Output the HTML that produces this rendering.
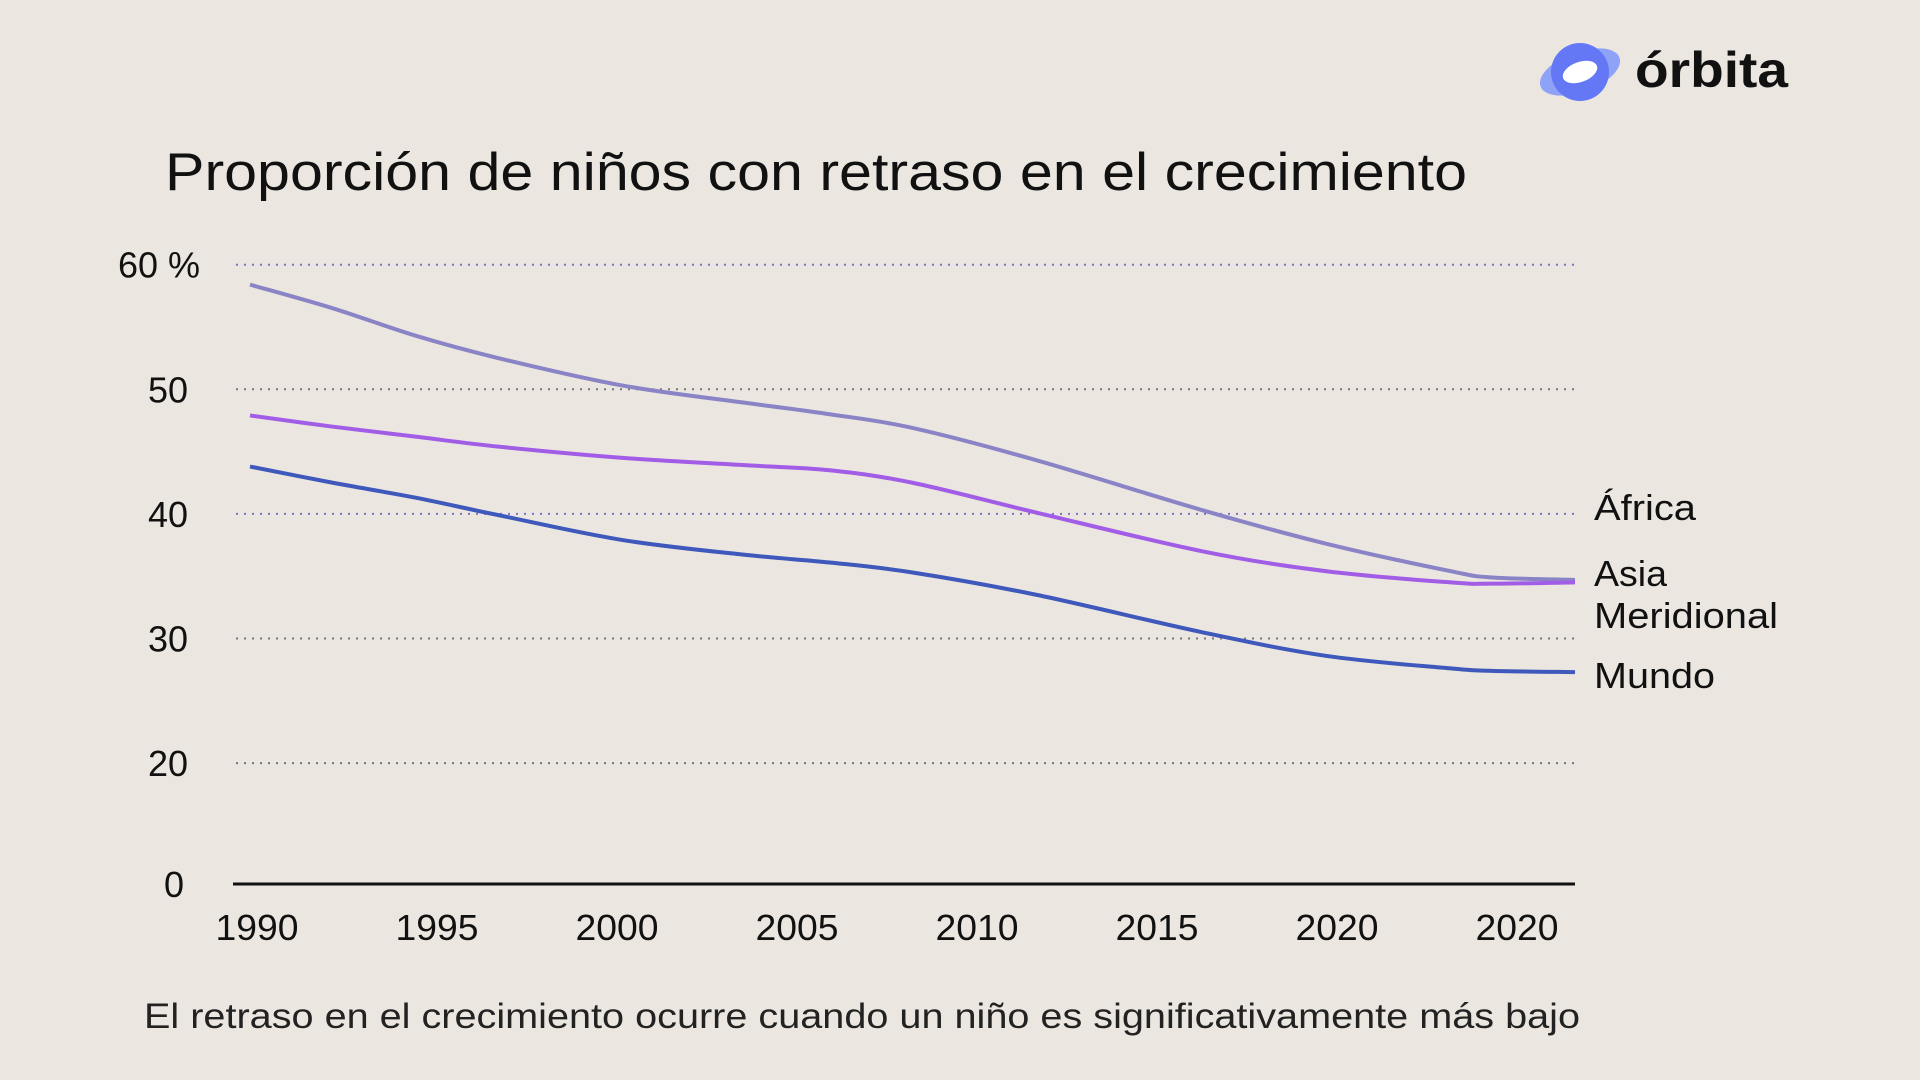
<!DOCTYPE html>
<html><head><meta charset="utf-8"><style>
body{margin:0;background:#ebe7e0;}
svg{display:block;font-family:"Liberation Sans",sans-serif;}
</style></head><body>
<svg width="1920" height="1080" viewBox="0 0 1920 1080">
<rect width="1920" height="1080" fill="#ebe7e0"/>
<g>
<ellipse cx="1580" cy="72" rx="42" ry="20" transform="rotate(-20 1580 72)" fill="#8ea2f8"/>
<circle cx="1580" cy="72" r="29" fill="#6478f5"/>
<ellipse cx="1580" cy="72" rx="18" ry="10" transform="rotate(-20 1580 72)" fill="#fff"/>
<text x="1635" y="87" font-size="50" font-weight="bold" fill="#111" textLength="153" lengthAdjust="spacingAndGlyphs">órbita</text>
</g>
<text x="165" y="190" font-size="53" fill="#111" textLength="1302" lengthAdjust="spacingAndGlyphs">Proporción de niños con retraso en el crecimiento</text>
<g id="grid"></g><g id="lines"></g><g id="labels"></g>
<text x="144" y="1028" font-size="35" fill="#222" textLength="1436" lengthAdjust="spacingAndGlyphs">El retraso en el crecimiento ocurre cuando un niño es significativamente más bajo</text>
</svg>
<script>
const years=[1990,1992,1994,1996,1999,2002,2004,2006,2009,2013,2016,2019,2020,2022];
const africa=[58.4,56.5,54.3,52.5,50.3,48.9,48.0,46.9,44.3,40.3,37.6,35.4,34.9,34.7];
const asia=[47.9,47.0,46.2,45.4,44.5,43.9,43.5,42.5,40.1,37.0,35.4,34.5,34.4,34.5];
const mundo=[43.8,42.5,41.3,39.9,37.9,36.7,36.1,35.3,33.5,30.5,28.6,27.6,27.4,27.3];
const yTicks=[60,50,40,30,20];
const yTickLabels=["60 %","50","40","30","20"];
const xTickLabels=["1990","1995","2000","2005","2010","2015","2020","2020"];
const NS="http://www.w3.org/2000/svg";
function xs(yr){return 250+(yr-1990)*(1575-250)/32;}
function ys(v){return 264.7+(60-v)*12.46;}
function mk(t,a,p){const e=document.createElementNS(NS,t);for(const k in a)e.setAttribute(k,a[k]);p.appendChild(e);return e;}
const grid=document.getElementById('grid');
yTicks.forEach((v,i)=>{
 const purple=(v===60||v===40);
 const l=mk('line',{x1:236,x2:1575,y1:ys(v),y2:ys(v),stroke:purple?'#7c72c8':'#777','stroke-width':2,'stroke-dasharray':'2 6'},grid);
 
 
 const t=mk('text',{x:v===60?200:188,y:ys(v)+13,'font-size':36,fill:'#111','text-anchor':'end'},grid);
 t.textContent=yTickLabels[i];
 
 
});
const ax=mk('line',{x1:233,x2:1575,y1:884,y2:884,stroke:'#111','stroke-width':3},grid);


const z=mk('text',{x:184,y:897,'font-size':36,fill:'#111','text-anchor':'end'},grid);
z.textContent='0';


xTickLabels.forEach((s,i)=>{
 const t=mk('text',{x:257+i*180,y:940,'font-size':36,fill:'#111','text-anchor':'middle',textLength:83,lengthAdjust:'spacingAndGlyphs'},grid);
 t.textContent=s;
 
 
});
function path(vals){
 const p=years.map((y,i)=>[xs(y),ys(vals[i])]);
 let d='M'+p[0][0]+','+p[0][1];
 for(let i=0;i<p.length-1;i++){
  const p0=p[Math.max(0,i-1)],p1=p[i],p2=p[i+1],p3=p[Math.min(p.length-1,i+2)];
  const c1=[p1[0]+(p2[0]-p0[0])/6,p1[1]+(p2[1]-p0[1])/6];
  const c2=[p2[0]-(p3[0]-p1[0])/6,p2[1]-(p3[1]-p1[1])/6];
  d+=' C'+c1+' '+c2+' '+p2;
 }
 return d;
}
const lines=document.getElementById('lines');
const a=mk('path',{d:path(africa),fill:'none',stroke:'#8a84c6','stroke-width':4},lines);


const b=mk('path',{d:path(asia),fill:'none',stroke:'#a25de6','stroke-width':4},lines);


const c=mk('path',{d:path(mundo),fill:'none',stroke:'#3e58bb','stroke-width':4},lines);


const labs=document.getElementById('labels');
[["África",520,'label-africa',102],["Asia",586,'label-asia',73],["Meridional",628,'label-meridional',184],["Mundo",688,'label-mundo',121]].forEach(l=>{
 const t=mk('text',{x:1594,y:l[1],'font-size':36,fill:'#111',textLength:l[3],lengthAdjust:'spacingAndGlyphs'},labs);
 t.textContent=l[0];
 
 
});
</script>
</body></html>
